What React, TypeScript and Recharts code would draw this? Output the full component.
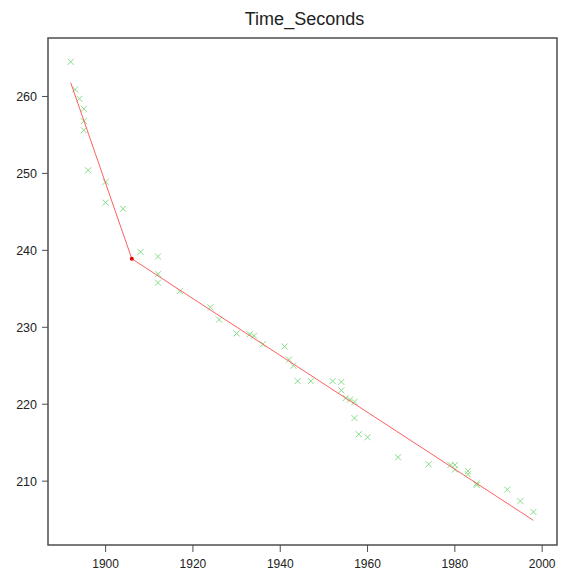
import React from 'react';
import { ScatterChart, Scatter, XAxis, YAxis, ReferenceArea } from 'recharts';

const years = [
  1892, 1893, 1894, 1895, 1895, 1895, 1896, 1900, 1900, 1904, 1908, 1912, 1912, 1912, 1917, 1924,
  1926, 1930, 1933, 1934, 1936, 1941, 1942, 1943, 1944, 1947, 1952, 1954, 1954, 1955, 1956, 1957,
  1957, 1958, 1960, 1967, 1974, 1979, 1980, 1980, 1983, 1983, 1985, 1985, 1992, 1995, 1998,
];
const times = [
  264.5, 260.9, 259.7, 258.4, 256.8, 255.6, 250.4, 248.9, 246.2, 245.4, 239.8, 239.2, 236.9, 235.8,
  234.7, 232.6, 231.0, 229.2, 229.1, 228.9, 227.8, 227.5, 225.8, 225.0, 223.0, 223.0, 223.0, 222.9,
  221.8, 220.8, 220.6, 220.3, 218.2, 216.1, 215.7, 213.1, 212.2, 212.1, 212.1, 211.5, 211.3, 210.9,
  209.7, 209.5, 208.9, 207.4, 206.0,
];

// piecewise fit, breakpoint in the middle
const fitYears = [1892, 1906, 1998];
const fitTimes = [261.8, 238.9, 204.9];

const xTicks = [1900, 1920, 1940, 1960, 1980, 2000];
const yTicks = [210, 220, 230, 240, 250, 260];

const X_DOMAIN: [number, number] = [1886.8, 2003.4];
const Y_DOMAIN: [number, number] = [201.7, 267.6];

const points = years.map((year, i) => ({ year, time: times[i] }));
const fit = fitYears.map((year, i) => ({ year, time: fitTimes[i], knot: i === 1 }));

const Cross = (props: any) => {
  const { cx, cy } = props;
  if (cx == null || cy == null) return <g />;
  const s = 3;
  return (
    <g stroke="#86dc86" strokeWidth={1}>
      <line x1={cx - s} y1={cy - s} x2={cx + s} y2={cy + s} />
      <line x1={cx - s} y1={cy + s} x2={cx + s} y2={cy - s} />
    </g>
  );
};

const Knot = (props: any) => {
  const { cx, cy, payload } = props;
  if (!payload?.knot) return <g />;
  return <circle cx={cx} cy={cy} r={2} fill="#e00000" />;
};

const axisColor = '#4d4d4d';
const tickStyle = { fontFamily: '"Liberation Sans", Arial, sans-serif', fill: '#222' };

export default function App() {
  return (
    <div style={{ position: 'absolute', left: 0, top: 0, width: 569, height: 571, background: '#fff' }}>
      <div
        style={{
          position: 'absolute',
          left: 0,
          width: 609,
          top: 8,
          textAlign: 'center',
          fontFamily: '"Liberation Sans", Arial, sans-serif',
          fontSize: 18,
          lineHeight: '22px',
          color: '#222',
        }}
      >
        Time_Seconds
      </div>
      <ScatterChart width={569} height={571} margin={{ top: 38, right: 12, left: 0, bottom: 0 }}>
        <XAxis
          type="number"
          dataKey="year"
          domain={X_DOMAIN}
          ticks={xTicks}
          allowDataOverflow
          height={26}
          tickSize={7}
          tickMargin={7}
          stroke={axisColor}
          axisLine={false}
          tick={{ ...tickStyle, fontSize: 12 }}
        />
        <YAxis
          type="number"
          dataKey="time"
          domain={Y_DOMAIN}
          ticks={yTicks}
          allowDataOverflow
          width={48}
          tickSize={6}
          tickMargin={5}
          stroke={axisColor}
          axisLine={false}
          tick={{ ...tickStyle, fontSize: 12.5 }}
        />
        <ReferenceArea
          x1={X_DOMAIN[0]}
          x2={X_DOMAIN[1]}
          y1={Y_DOMAIN[0]}
          y2={Y_DOMAIN[1]}
          fill="none"
          stroke={axisColor}
          strokeWidth={1.5}
          fillOpacity={0}
        />
        <Scatter data={points} shape={<Cross />} isAnimationActive={false} />
        <Scatter
          data={fit}
          line={{ stroke: '#ff6060', strokeWidth: 1 }}
          lineType="joint"
          shape={<Knot />}
          isAnimationActive={false}
        />
      </ScatterChart>
    </div>
  );
}
